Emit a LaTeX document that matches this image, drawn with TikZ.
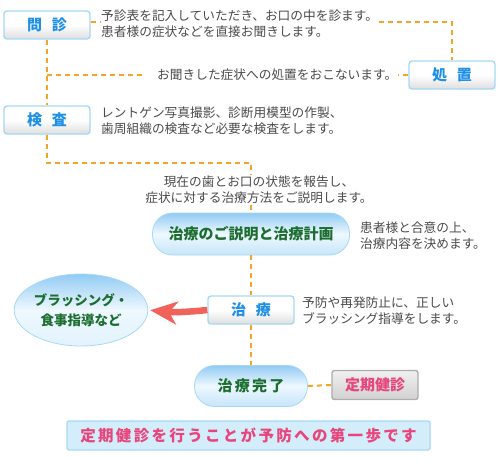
\documentclass[tikz,border=0pt]{standalone}
\usepackage{fontspec}
\setmainfont{Noto Sans CJK JP}
\usetikzlibrary{arrows.meta,shapes.geometric,calc}
\definecolor{dashor}{HTML}{F6A428}
\definecolor{txtgray}{HTML}{4A4A4A}
\definecolor{boxblue}{HTML}{A6D8F6}
\definecolor{lblblue}{HTML}{1E8FE6}
\definecolor{lblgreen}{HTML}{1C6E30}
\definecolor{pink}{HTML}{E8457C}
\definecolor{arrowred}{HTML}{F0625A}
\definecolor{pillblue}{HTML}{92CBF3}
\definecolor{pilllight}{HTML}{EEF8FE}
\definecolor{pillbot}{HTML}{C6E5FA}
\definecolor{bannerfill}{HTML}{D4EDFA}
\tikzset{
  desc/.style={inner sep=1pt, align=left, text=txtgray, font=\fontsize{12.7}{15.8}\selectfont},
  stepbox/.style={draw=boxblue, line width=1.4pt, rounded corners=3pt, top color=white, bottom color=black!13, middle color=white,
     minimum width=86pt, minimum height=28pt, inner sep=0pt, text=lblblue, font=\fontsize{15}{18}\selectfont\bfseries},
  pill/.style={draw=boxblue, line width=0.8pt, rounded corners=20pt, top color=pillblue, bottom color=pillbot, middle color=pilllight,
     inner sep=0pt, text=lblgreen, font=\fontsize{15}{18}\selectfont\bfseries},
  dashln/.style={draw=dashor, line width=2pt, dash pattern=on 5pt off 4pt},
}
\begin{document}
\begin{tikzpicture}[x=1pt,y=-1pt]
\useasboundingbox (0,0) rectangle (500,460);
% step boxes
\node[stepbox] (monshin) at (47,25) {問\hspace{0.65em}診};
\node[stepbox] (shochi) at (452,75) {処\hspace{0.65em}置};
\node[stepbox] (kensa) at (47,120) {検\hspace{0.65em}査};
\node[stepbox] (chiryo) at (251,310) {治\hspace{0.65em}療};
\node[pill, minimum width=197pt, minimum height=42pt] (setsumei) at (251,234) {治療のご説明と治療計画};
\node[pill, minimum width=113pt, minimum height=41pt] (kanryo) at (251,386) {\addfontfeature{LetterSpace=15}治療完了};
\node[ellipse, draw=boxblue, line width=0.8pt, top color=pillblue, bottom color=pilllight!70!pillbot, middle color=pilllight,
      minimum width=117pt, minimum height=72pt, inner sep=0pt, align=center, text=lblgreen,
      font=\fontsize{13.5}{19.5}\selectfont\bfseries] (brush) at (81,310) {ブラッシング・\\食事指導など};
\node[draw=black!32, line width=1.4pt, rounded corners=2.5pt, top color=black!6, bottom color=black!18,
      minimum width=86pt, minimum height=29pt, inner sep=0pt, text=pink, font=\fontsize{15}{18}\selectfont\bfseries] (teiki) at (375,385) {定期健診};
\node[draw=boxblue, line width=1.2pt, rounded corners=2pt, fill=bannerfill, minimum width=363pt, minimum height=29pt, inner sep=0pt,
      text=pink, font=\fontsize{15.5}{18}\selectfont\bfseries] (banner) at (248.5,435.5) {\addfontfeature{LetterSpace=15}定期健診を行うことが予防への第一歩です};
% descriptions
\node[desc, anchor=west] (t1) at (100,23.5) {予診表を記入していただき、お口の中を診ます。\\患者様の症状などを直接お聞きします。};
\node[desc, anchor=west] (t2) at (156,75) {お聞きした症状への処置をおこないます。};
\node[desc, anchor=west] (t3) at (100,121) {レントゲン写真撮影、診断用模型の作製、\\歯周組織の検査など必要な検査をします。};
\node[desc, align=center] (t4) at (259,190) {現在の歯とお口の状態を報告し、\\症状に対する治療方法をご説明します。};
\node[desc, anchor=west] (t5) at (359,235.5) {患者様と合意の上、\\治療内容を決めます。};
\node[desc, anchor=west] (t6) at (301,310.5) {予防や再発防止に、正しい\\ブラッシング指導をします。};
% connectors
\coordinate (c1) at (452,22);
\coordinate (c3) at (251,163);
\draw[dashln] (monshin.east |- c1) -- (t1.west |- c1);
\draw[dashln] (t1.east |- c1) -- (c1) -- (shochi.north);
\draw[dashln] (shochi.west) -- (t2.east);
\draw[dashln] (monshin.south) -- (kensa.north);
\draw[dashln] (monshin.south |- t2.west) -- ($(t2.west)+(-11,0)$);
\draw[dashln] (kensa.south) |- (c3) -- (c3 |- t4.north);
\draw[dashln] (c3 |- t4.south) -- (setsumei.north);
\draw[dashln] (setsumei.south) -- (chiryo.north);
\draw[dashln] (chiryo.south) -- (kanryo.north);
\draw[dashln] (kanryo.east) -- (teiki.west);
\draw[arrowred, line width=6.5pt, -{Stealth[length=27pt,width=23pt,inset=8pt]}, shorten >=2pt]
  (chiryo.west) to[bend left=6] (brush.east);
\end{tikzpicture}
\end{document}
